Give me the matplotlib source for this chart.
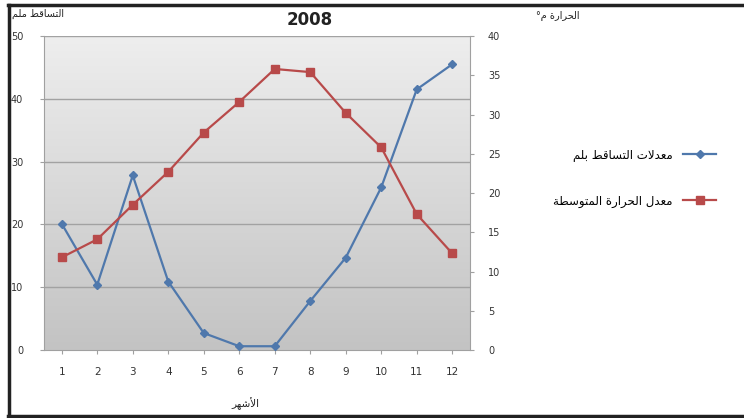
import numpy as np
import matplotlib
matplotlib.use("Agg")
import matplotlib.pyplot as plt
from matplotlib.lines import Line2D

months = ["1", "2", "3", "4", "5", "6", "7", "8", "9", "10", "11", "12"]
rain = [20.1, 10.4, 27.8, 10.9, 2.7, 0.6, 0.6, 7.8, 14.7, 25.9, 41.5, 45.5]
temp = [11.8, 14.1, 18.5, 22.7, 27.7, 31.6, 35.8, 35.4, 30.2, 25.8, 17.3, 12.3]
left_ticks = [0, 10, 20, 30, 40, 50]
right_ticks = [0, 5, 10, 15, 20, 25, 30, 35, 40]

title = "2008"
rain_label = "معدلات التساقط بلم"
temp_label = "معدل الحرارة المتوسطة"
left_axis_label = "التساقط ملم"
right_axis_label = "الحرارة م°"
x_label = "الأشهر"

# --- minimal Arabic shaping (presentation forms) + visual reordering ---
FORMS = {
    'ا': ('\uFE8D', '\uFE8E', None, None),
    'أ': ('\uFE83', '\uFE84', None, None),
    'ب': ('\uFE8F', '\uFE90', '\uFE91', '\uFE92'),
    'ت': ('\uFE95', '\uFE96', '\uFE97', '\uFE98'),
    'ة': ('\uFE93', '\uFE94', None, None),
    'ح': ('\uFEA1', '\uFEA2', '\uFEA3', '\uFEA4'),
    'د': ('\uFEA9', '\uFEAA', None, None),
    'ر': ('\uFEAD', '\uFEAE', None, None),
    'س': ('\uFEB1', '\uFEB2', '\uFEB3', '\uFEB4'),
    'ش': ('\uFEB5', '\uFEB6', '\uFEB7', '\uFEB8'),
    'ط': ('\uFEC1', '\uFEC2', '\uFEC3', '\uFEC4'),
    'ع': ('\uFEC9', '\uFECA', '\uFECB', '\uFECC'),
    'ق': ('\uFED5', '\uFED6', '\uFED7', '\uFED8'),
    'ل': ('\uFEDD', '\uFEDE', '\uFEDF', '\uFEE0'),
    'م': ('\uFEE1', '\uFEE2', '\uFEE3', '\uFEE4'),
    'ن': ('\uFEE5', '\uFEE6', '\uFEE7', '\uFEE8'),
    'ه': ('\uFEE9', '\uFEEA', '\uFEEB', '\uFEEC'),
    'و': ('\uFEED', '\uFEEE', None, None),
    'ي': ('\uFEF1', '\uFEF2', '\uFEF3', '\uFEF4'),
    'لا': ('\uFEFB', '\uFEFC', None, None),
    'لأ': ('\uFEF7', '\uFEF8', None, None),
}


def shape(s):
    toks = []
    i = 0
    while i < len(s):
        if s[i] == 'ل' and i + 1 < len(s) and s[i + 1] in 'اأ':
            toks.append(s[i:i + 2])
            i += 2
        else:
            toks.append(s[i])
            i += 1
    out = []
    for k, t in enumerate(toks):
        if t not in FORMS:
            out.append(t)
            continue
        prev = toks[k - 1] if k > 0 else None
        nxt = toks[k + 1] if k + 1 < len(toks) else None
        joins_prev = prev in FORMS and FORMS[prev][2] is not None
        joins_next = FORMS[t][2] is not None and nxt in FORMS
        f = FORMS[t]
        if joins_prev and joins_next:
            out.append(f[3])
        elif joins_prev:
            out.append(f[1])
        elif joins_next:
            out.append(f[2])
        else:
            out.append(f[0])
    return ''.join(out)[::-1]


plt.rcParams['font.family'] = ['DejaVu Sans']

fig = plt.figure(figsize=(7.44, 4.18), dpi=100)
fig.patch.set_facecolor('white')
ax = fig.add_axes([44 / 744, 68 / 418, 426 / 744, 314 / 418])
ax2 = ax.twinx()

x = np.arange(1, len(months) + 1)

# gradient background
grad = np.linspace(0, 1, 256).reshape(-1, 1)
ax.imshow(grad, extent=[0, 1, 0, 1], transform=ax.transAxes, aspect='auto',
          cmap=matplotlib.colors.LinearSegmentedColormap.from_list('g', ['#c3c3c3', '#eeeeee']),
          origin='lower', zorder=0)
ax.set_facecolor('#dddddd')

for v in left_ticks[1:]:
    ax.axhline(v, color='#a2a2a2', lw=1.0, zorder=1)

blue = '#4f78ac'
red = '#b84a4a'
l1, = ax.plot(x, rain, color=blue, lw=1.6, marker='D', ms=4, mec=blue, mfc=blue, zorder=3)
l2, = ax2.plot(x, temp, color=red, lw=1.6, marker='s', ms=6, mec=red, mfc=red, zorder=3)

ax.set_xlim(0.5, 12.5)
ax.set_ylim(0, 50)
ax2.set_ylim(0, 40)
ax.set_yticks(left_ticks)
ax2.set_yticks(right_ticks)
ax.set_xticks(x)
ax.set_xticklabels(months)

for a in (ax, ax2):
    for sp in a.spines.values():
        sp.set_visible(False)
ax.spines['left'].set_visible(True)
ax.spines['left'].set_color('#a0a0a0')
ax.spines['bottom'].set_visible(True)
ax.spines['bottom'].set_color('#a0a0a0')
ax2.spines['right'].set_visible(True)
ax2.spines['right'].set_color('#a0a0a0')

ax.tick_params(axis='y', labelsize=7, colors='#a0a0a0', length=3, pad=12, labelcolor='#333333')
ax.tick_params(axis='x', labelsize=7.5, length=3, pad=9, colors='#a0a0a0', labelcolor='#333333')
ax2.tick_params(axis='y', labelsize=7, length=3, pad=10, colors='#a0a0a0', labelcolor='#333333')

fig.text(310 / 744, 1 - 20 / 418, title, ha='center', va='center', fontsize=12, fontweight='bold', color='#222222')
fig.text(12 / 744, 1 - 14 / 418, shape(left_axis_label), ha='left', va='center', fontsize=7, color='#222222')
fig.text(580 / 744, 1 - 16 / 418, shape(right_axis_label), ha='right', va='center', fontsize=7, color='#222222')
fig.text(245 / 744, 1 - 404 / 418, shape(x_label), ha='center', va='center', fontsize=7.5, color='#222222')

leg = fig.legend([l1, l2], [shape(rain_label), shape(temp_label)], markerfirst=False,
                 loc='center right', bbox_to_anchor=(727 / 744, 1 - 178 / 418),
                 frameon=False, fontsize=8.5, labelspacing=2.8, handlelength=2.8, handletextpad=0.9)

# border of the picture (top, left, bottom)
for xs, ys in [((8, 744), (5, 5)), ((9, 9), (5, 416)), ((8, 744), (416, 416))]:
    fig.add_artist(Line2D([v / 744 for v in xs], [1 - v / 418 for v in ys],
                          transform=fig.transFigure, color='#222222', lw=2.5))

fig.savefig('out.png', dpi=100)
